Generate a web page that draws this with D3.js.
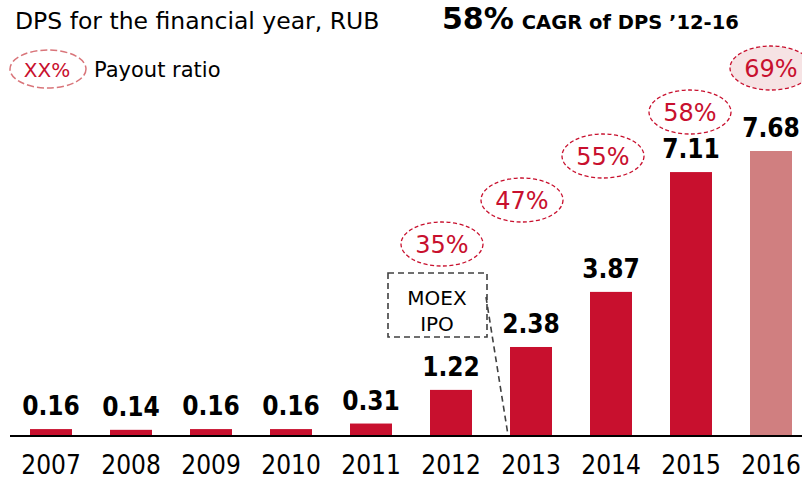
<!DOCTYPE html>
<html>
<head>
<meta charset="utf-8">
<script src="https://cdn.jsdelivr.net/npm/d3@7"></script>
<style>
  html, body { margin: 0; padding: 0; background: #fff; }
  svg text { font-family: 'DejaVu Sans', sans-serif; }
  svg text.cond, svg .cond text { font-family: 'DejaVu Sans Condensed', 'DejaVu Sans', sans-serif; font-stretch: condensed; }
</style>
</head>
<body>
<div id="viz"></div>
<script>
const years = ['2007', '2008', '2009', '2010', '2011', '2012', '2013', '2014', '2015', '2016'];
const dps = [0.16, 0.14, 0.16, 0.16, 0.31, 1.22, 2.38, 3.87, 7.11, 7.68];
const payoutYears = ['2012', '2013', '2014', '2015', '2016'];
const payout = [35, 47, 55, 58, 69];
const labels = ['0.16', '0.14', '0.16', '0.16', '0.31', '1.22', '2.38', '3.87', '7.11', '7.68'];

const width = 802;
const height = 479;
const RED = '#c8102e';
const PINK = '#d07f80';

const svg = d3.select('#viz')
  .append('svg')
  .attr('width', width)
  .attr('height', height);

const x = d3.scaleBand()
  .domain(years)
  .range([11, 811])
  .paddingInner(0.475)
  .paddingOuter(0.2375);

const y = d3.scaleLinear()
  .domain([0, 7.68])
  .range([435, 151]);

// bars
svg.selectAll('rect.bar')
  .data(years)
  .enter()
  .append('rect')
  .attr('class', 'bar')
  .attr('x', d => x(d))
  .attr('width', x.bandwidth())
  .attr('y', (d, i) => y(dps[i]))
  .attr('height', (d, i) => y(0) - y(dps[i]))
  .attr('fill', (d, i) => (i === years.length - 1 ? PINK : RED));

// value labels
svg.selectAll('text.val')
  .data(years)
  .enter()
  .append('text')
  .attr('class', 'val cond')
  .attr('x', d => x(d) + x.bandwidth() / 2)
  .attr('y', (d, i) => y(dps[i]) - 14)
  .attr('text-anchor', 'middle')
  .style('font-size', '26px')
  .style('font-weight', 'bold')
  .text((d, i) => labels[i]);

// baseline
svg.append('line')
  .attr('x1', 10).attr('x2', width)
  .attr('y1', y(0) + 1).attr('y2', y(0) + 1)
  .attr('stroke', '#000')
  .attr('stroke-width', 2);

// year axis
const xAxis = svg.append('g')
  .attr('class', 'cond')
  .attr('transform', `translate(0,${y(0) + 2})`)
  .call(d3.axisBottom(x).tickSize(0).tickPadding(19));
xAxis.select('.domain').remove();
xAxis.selectAll('text')
  .style('font-size', '26px')
  .attr('fill', '#000');

// payout ellipses
const dxs = [-9, -9, -8, -1, 0];
const pay = svg.selectAll('g.pay')
  .data(payoutYears)
  .enter()
  .append('g')
  .attr('class', 'pay')
  .attr('transform', (d, i) => `translate(${x(d) + x.bandwidth() / 2 + dxs[i]},${244 - 44 * i})`);

pay.append('ellipse')
  .attr('rx', 41)
  .attr('ry', 22)
  .attr('fill', (d, i) => (i === payout.length - 1 ? '#f6e3e4' : 'none'))
  .attr('stroke', RED)
  .attr('stroke-width', 1.3)
  .attr('stroke-dasharray', '4,2.5');

pay.append('text')
  .attr('text-anchor', 'middle')
  .attr('y', 9)
  .attr('fill', RED)
  .style('font-size', '24px')
  .text((d, i) => `${payout[i]}%`);

// MOEX IPO callout
const ipo = svg.append('g').attr('stroke', '#404040').attr('stroke-width', 1.6).attr('stroke-dasharray', '6,4').attr('fill', 'none');
ipo.append('rect').attr('x', 388).attr('y', 273).attr('width', 99).attr('height', 64);
ipo.append('line')
  .attr('x1', 486).attr('y1', 297)
  .attr('x2', x('2013') - 2).attr('y2', y(0));
svg.append('text').attr('x', 437).attr('y', 305).attr('text-anchor', 'middle')
  .style('font-size', '20px').text('MOEX');
svg.append('text').attr('x', 437).attr('y', 331).attr('text-anchor', 'middle')
  .style('font-size', '20px').text('IPO');

// header
svg.append('text').attr('x', 15).attr('y', 29)
  .style('font-size', '23.5px').text('DPS for the financial year, RUB');

const cagr = svg.append('text').attr('x', 442).attr('y', 29).style('font-weight', 'bold');
cagr.append('tspan').style('font-size', '30px').text('58%');
cagr.append('tspan').attr('dx', 8).style('font-size', '19.5px').text('CAGR of DPS \u201912-16');

// legend
svg.append('ellipse')
  .attr('cx', 48).attr('cy', 69).attr('rx', 38).attr('ry', 19)
  .attr('fill', 'none')
  .attr('stroke', '#d9757a')
  .attr('stroke-width', 1.5)
  .attr('stroke-dasharray', '7,3');
svg.append('text').attr('x', 47).attr('y', 77).attr('text-anchor', 'middle')
  .attr('fill', RED).style('font-size', '20px').text('XX%');
svg.append('text').attr('x', 94).attr('y', 77)
  .style('font-size', '21px').text('Payout ratio');
</script>
</body>
</html>
